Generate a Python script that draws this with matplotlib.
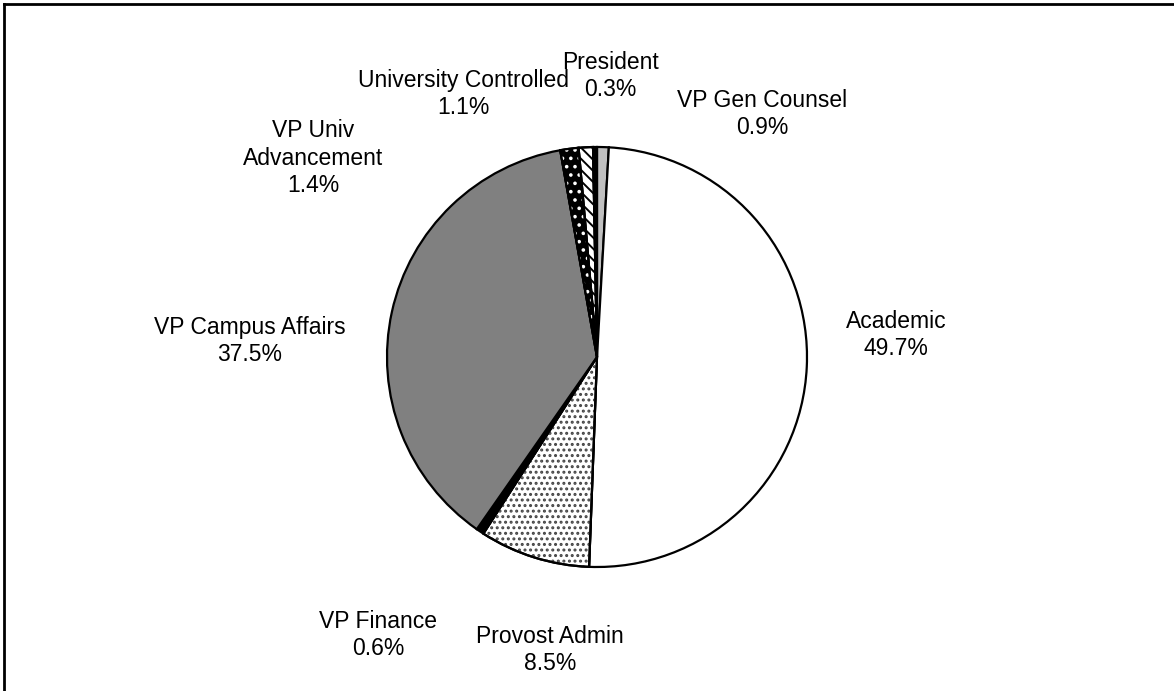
import numpy as np
import matplotlib
matplotlib.use('Agg')
import matplotlib.pyplot as plt
from matplotlib.patches import Wedge

plt.rcParams['font.family'] = ['Liberation Sans', 'DejaVu Sans']
plt.rcParams['hatch.linewidth'] = 1.4

# --- data (clockwise from 12 o'clock) ---
names = ["VP Gen Counsel", "Academic", "Provost Admin", "VP Finance",
         "VP Campus Affairs", "VP Univ\nAdvancement", "University Controlled", "President"]
shares = [0.9, 49.7, 8.5, 0.6, 37.5, 1.4, 1.1, 0.3]

# --- styles ---
faces = ["#c0c0c0", "#ffffff", "#ffffff", "#000000", "#808080", "#000000", "#ffffff", "#000000"]
hatches = [None, None, "...", None, None, "..", "\\\\\\", None]
hatch_cols = [None, None, "#444444", None, None, "#ffffff", "#000000", None]

# label centres in pixels (x, y from top)
label_pos = [(762, 114), (896, 335), (550, 650), (378, 635),
             (250, 341), (313, 158), (463, 94), (610, 76)]

W, H = 1174, 691
CX, CY, R = 597, 357, 210

fig = plt.figure(figsize=(W / 100, H / 100), dpi=100)
ax = fig.add_axes([0, 0, 1, 1])

wedges, _ = ax.pie(shares, startangle=90, counterclock=False, colors=faces,
                   center=(CX, H - CY), radius=R, frame=True,
                   wedgeprops=dict(edgecolor="black", linewidth=1.6))
ax.set_xlim(0, W)
ax.set_ylim(0, H)
ax.set_axis_off()

# overlay hatch patterns
for w, h, hc in zip(wedges, hatches, hatch_cols):
    if h is None:
        continue
    ov = Wedge(w.center, w.r, w.theta1, w.theta2, facecolor="none",
               edgecolor=hc, hatch=h, linewidth=0, zorder=w.get_zorder() + 0.1)
    ax.add_patch(ov)
    outline = Wedge(w.center, w.r, w.theta1, w.theta2, facecolor="none",
                    edgecolor="black", linewidth=1.6, zorder=w.get_zorder() + 0.2)
    ax.add_patch(outline)

for name, val, (lx, ly) in zip(names, shares, label_pos):
    ax.text(lx, H - ly, f"{name}\n{val:.1f}%", ha="center", va="center",
            multialignment="center", fontsize=16.5, linespacing=1.25)

# chart frame (only top and left visible)
ax.plot([4, W], [H - 4, H - 4], color="black", linewidth=2)
ax.plot([4, 4], [0, H - 4], color="black", linewidth=2)

fig.savefig("out.png", dpi=100, facecolor="white")
